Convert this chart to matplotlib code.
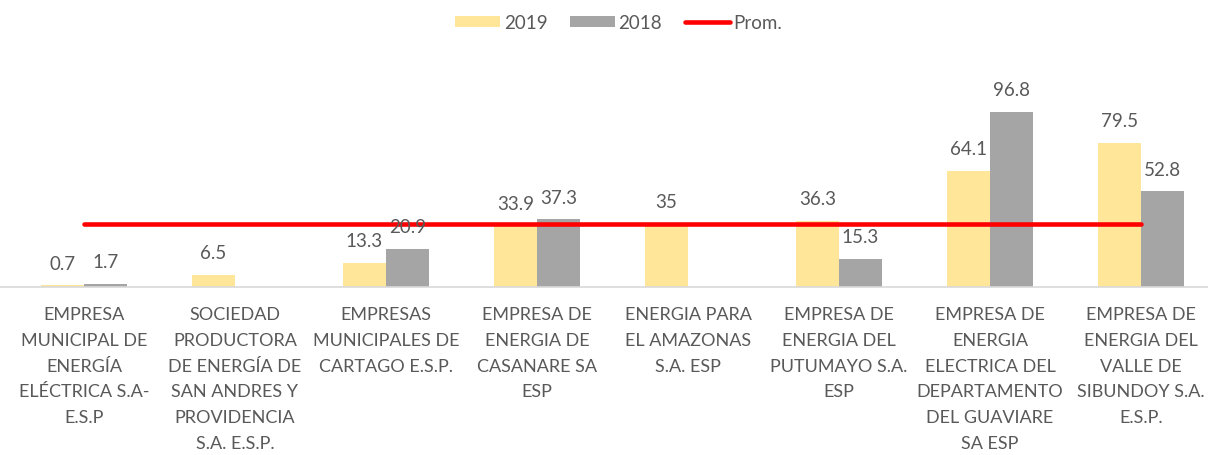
import matplotlib
matplotlib.use('Agg')
import matplotlib.pyplot as plt
import numpy as np

# datos
empresas = [
    'EMPRESA\nMUNICIPAL DE\nENERGÍA\nELÉCTRICA S.A-\nE.S.P',
    'SOCIEDAD\nPRODUCTORA\nDE ENERGÍA DE\nSAN ANDRES Y\nPROVIDENCIA\nS.A. E.S.P.',
    'EMPRESAS\nMUNICIPALES DE\nCARTAGO E.S.P.',
    'EMPRESA DE\nENERGIA DE\nCASANARE SA\nESP',
    'ENERGIA PARA\nEL AMAZONAS\nS.A. ESP',
    'EMPRESA DE\nENERGIA DEL\nPUTUMAYO S.A.\nESP',
    'EMPRESA DE\nENERGIA\nELECTRICA DEL\nDEPARTAMENTO\nDEL GUAVIARE\nSA ESP',
    'EMPRESA DE\nENERGIA DEL\nVALLE DE\nSIBUNDOY S.A.\nE.S.P.',
]
v2019 = [0.7, 6.5, 13.3, 33.9, 35, 36.3, 64.1, 79.5]
v2018 = [1.7, np.nan, 20.9, 37.3, np.nan, 15.3, 96.8, 52.8]
prom = [34.8, 34.8, 34.8, 34.8, 34.8, 34.8, 34.8, 34.8]

plt.rcParams['font.family'] = ['Lato', 'DejaVu Sans']
gris_txt = '#595959'

fig = plt.figure(figsize=(12.08, 4.56), dpi=100)
ax = fig.add_axes([0, 0.369, 1, 0.5])

x = np.arange(len(empresas))
w = 0.285
b1 = ax.bar(x - w/2, v2019, w, color='#FFE699', label='2019', zorder=1)
b2 = ax.bar(x + w/2, np.nan_to_num(v2018), w, color='#A5A5A5', label='2018', zorder=1)
linea, = ax.plot(x, prom, color='#FF0000', linewidth=3.3, solid_capstyle='round', label='Prom.', zorder=2)

for xi, v in zip(x, v2019):
    ax.annotate(f'{v:g}', (xi - w/2, v), xytext=(0, 10), textcoords='offset points',
                ha='center', va='bottom', fontsize=13.5, color=gris_txt, zorder=3)
for xi, v in zip(x, v2018):
    if np.isnan(v):
        continue
    ax.annotate(f'{v:g}', (xi + w/2, v), xytext=(0, 10), textcoords='offset points',
                ha='center', va='bottom', fontsize=13.5, color=gris_txt, zorder=3)

ax.set_xlim(-0.556, 7.444)
ax.set_ylim(0, 126.4)
ax.set_xticks(x)
ax.set_xticklabels(empresas, fontsize=13, color=gris_txt, linespacing=1.75)
ax.tick_params(axis='x', length=0, pad=14)
ax.set_yticks([])
for s in ['top', 'right', 'left']:
    ax.spines[s].set_visible(False)
ax.spines['bottom'].set_color('#D9D9D9')
ax.spines['bottom'].set_linewidth(1.2)

fig.legend([b1, b2, linea], ['2019', '2018', 'Prom.'], loc='center',
           bbox_to_anchor=(0.512, 0.948), ncol=3, frameon=False,
           fontsize=13.5, handlelength=2.4, handleheight=0.55, handletextpad=0.2,
           columnspacing=1.2, labelcolor=gris_txt)

fig.savefig('out.png', dpi=100)
